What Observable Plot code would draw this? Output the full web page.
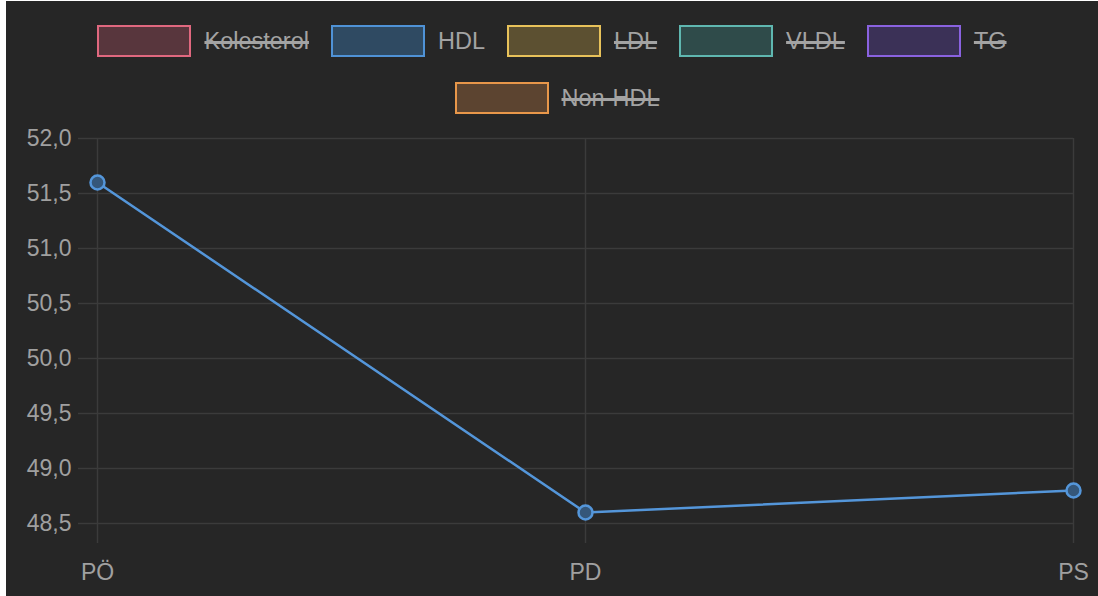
<!DOCTYPE html>
<html>
<head>
<meta charset="utf-8">
<script src="https://cdn.jsdelivr.net/npm/d3@7"></script>
<script src="https://cdn.jsdelivr.net/npm/@observablehq/plot@0.6"></script>
<style>
  html, body { margin: 0; padding: 0; background: #ffffff; }
  #frame {
    position: absolute; left: 6px; top: 1px; width: 1092px; height: 595px;
    background: #262626; overflow: hidden;
    font-family: "Liberation Sans", Arial, sans-serif;
  }
  #legend {
    position: absolute; left: 0; top: 24px; width: 1092px;
    display: flex; flex-direction: column; align-items: center; gap: 25px;
  }
  .row { display: flex; gap: 22px; align-items: center; }
  .row + .row { padding-left: 10px; }
  .item { display: flex; align-items: center; gap: 13px; }
  .swatch { width: 90px; height: 28px; border: 2px solid; }
  .label { color: #a3a3a3; font-size: 23.5px; line-height: 32px; }
  .hidden { text-decoration: line-through; text-decoration-thickness: 3px; }
  #chart { position: absolute; left: 0; top: 124px; }
</style>
</head>
<body>
<div id="frame">
  <div id="legend"></div>
  <div id="chart"></div>
</div>
<script>
// Lipid panel series shown in the legend; only HDL is switched on
const seriesNames = ["Kolesterol", "HDL", "LDL", "VLDL", "TG", "Non-HDL"];
const seriesBorder = ["#e0687f", "#4f92d6", "#e8c25a", "#5fb7b0", "#8a62e0", "#e8974a"];
const seriesFill = ["#58363d", "#2f4a62", "#5c5031", "#2f4b4a", "#3b3157", "#5c4430"];
const seriesVisible = [false, true, false, false, false, false];
const legendRows = [[0, 1, 2, 3, 4], [5]];

// Measurement points and HDL values
const periods = ["PÖ", "PD", "PS"];
const hdlValues = [51.6, 48.6, 48.8];

// Value axis ticks
const yTicks = [48.5, 49.0, 49.5, 50.0, 50.5, 51.0, 51.5, 52.0];

const legend = document.getElementById("legend");
for (const row of legendRows) {
  const r = document.createElement("div");
  r.className = "row";
  for (const i of row) {
    const item = document.createElement("div");
    item.className = "item";
    const sw = document.createElement("div");
    sw.className = "swatch";
    sw.style.borderColor = seriesBorder[i];
    sw.style.background = seriesFill[i];
    const lb = document.createElement("span");
    lb.className = "label" + (seriesVisible[i] ? "" : " hidden");
    lb.textContent = seriesNames[i];
    item.append(sw, lb);
    r.append(item);
  }
  legend.append(r);
}

const data = periods.map((p, i) => ({period: p, value: hdlValues[i]}));
const gridColor = "#3b3b3b";
const textColor = "#a0a0a0";
const lineColor = "#5496da";
const fmt = d => d.toFixed(1).replace(".", ",");

const chart = Plot.plot({
  width: 1092,
  height: 471,
  marginLeft: 91,
  marginRight: 25,
  marginTop: 13,
  marginBottom: 73,
  style: {background: "transparent", fontFamily: "Liberation Sans, Arial, sans-serif", fontSize: "23px", overflow: "visible"},
  x: {type: "point", domain: periods, padding: 0},
  y: {domain: [48.5, 52], ticks: yTicks},
  marks: [
    Plot.gridY(yTicks, {stroke: gridColor, strokeOpacity: 1, strokeWidth: 1.5}),
    Plot.gridX(periods, {stroke: gridColor, strokeOpacity: 1, strokeWidth: 1.5}),
    Plot.axisY(yTicks, {tickSize: 19, tickPadding: 7, stroke: gridColor, strokeWidth: 1.5, fill: textColor, tickFormat: fmt, fontSize: 23, label: null}),
    Plot.axisX(periods, {tickSize: 20, tickPadding: 20, stroke: gridColor, strokeWidth: 1.5, fill: textColor, fontSize: 23, label: null}),
    Plot.line(data, {x: "period", y: "value", stroke: lineColor, strokeWidth: 2.5}),
    Plot.dot(data, {x: "period", y: "value", r: 7, stroke: lineColor, strokeWidth: 2.5, fill: "#35577a"})
  ]
});
document.getElementById("chart").append(chart);
</script>
</body>
</html>
